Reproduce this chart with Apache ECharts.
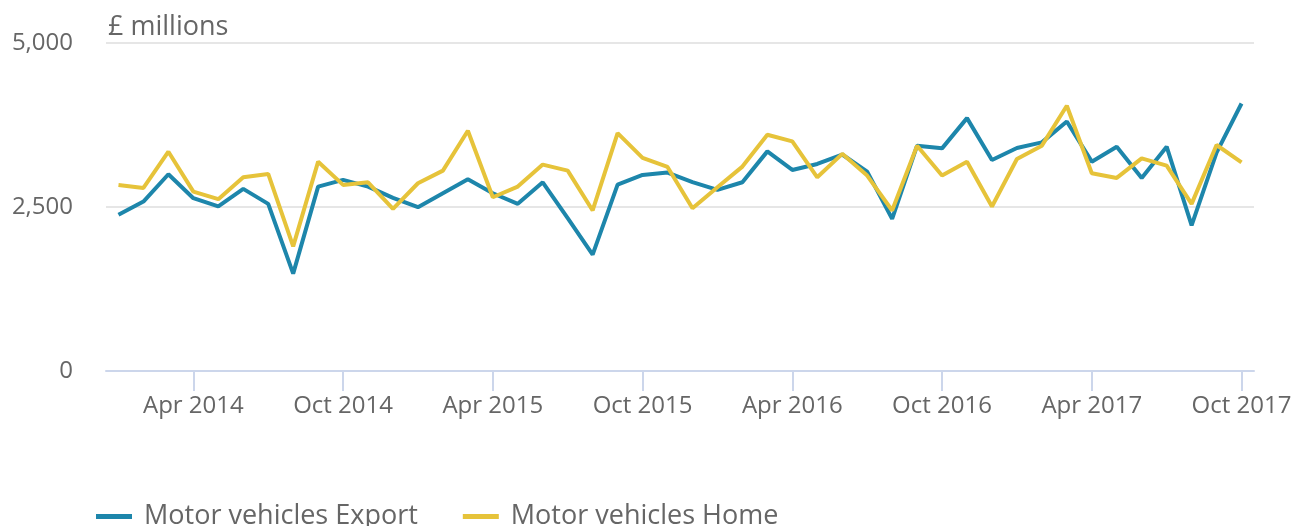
<!DOCTYPE html>
<html>
<head>
	<meta charset="utf-8">
	<title>Motor vehicles</title>
	<style>
		html, body { margin: 0; padding: 0; background: #fff; }
		#chart { width: 1304px; height: 526px; }
	</style>
</head>
<body>
<div id="chart"></div>
<script src="https://cdn.jsdelivr.net/npm/echarts@6/dist/echarts.min.js"></script>
<script>
	// monthly, Jan 2014 - Oct 2017
	var months = [
		'Jan 2014','Feb 2014','Mar 2014','Apr 2014','May 2014','Jun 2014','Jul 2014','Aug 2014','Sep 2014','Oct 2014','Nov 2014','Dec 2014',
		'Jan 2015','Feb 2015','Mar 2015','Apr 2015','May 2015','Jun 2015','Jul 2015','Aug 2015','Sep 2015','Oct 2015','Nov 2015','Dec 2015',
		'Jan 2016','Feb 2016','Mar 2016','Apr 2016','May 2016','Jun 2016','Jul 2016','Aug 2016','Sep 2016','Oct 2016','Nov 2016','Dec 2016',
		'Jan 2017','Feb 2017','Mar 2017','Apr 2017','May 2017','Jun 2017','Jul 2017','Aug 2017','Sep 2017','Oct 2017'
	];

	var exportVals = [
		2381, 2583, 2999, 2634, 2508, 2776, 2548, 1484, 2811, 2913, 2811, 2640,
		2497, 2710, 2923, 2710, 2548, 2877, 2330, 1773, 2842, 2989, 3025, 2880,
		2761, 2877, 3348, 3065, 3156, 3300, 3040, 2320, 3435, 3394, 3855, 3217,
		3399, 3485, 3804, 3191, 3419, 2943, 3419, 2219, 3330, 4078
	];

	var homeVals = [
		2837, 2791, 3343, 2735, 2619, 2953, 3004, 1900, 3191, 2837, 2877, 2472,
		2862, 3055, 3663, 2649, 2811, 3146, 3055, 2447, 3627, 3248, 3110, 2480,
		2801, 3116, 3602, 3500, 2953, 3310, 2979, 2447, 3435, 2979, 3191, 2508,
		3232, 3435, 4043, 3014, 2943, 3242, 3131, 2548, 3445, 3181
	];

	var seriesNames = ['Motor vehicles Export', 'Motor vehicles Home'];
	var colors = ['#1d86ab', '#e6c33a'];

	var font = '"Open Sans", sans-serif';
	var grey = '#666666';

	// Apr / Oct only
	function everySixth(index) {
		return index % 6 === 3;
	}

	var option = {
		animation: false,
		color: colors,
		textStyle: { fontFamily: font },
		title: {
			text: '£ millions',
			left: 103,
			top: 9,
			textStyle: { fontSize: 27, fontWeight: 'normal', color: grey, fontFamily: font }
		},
		legend: {
			left: 96,
			top: 503,
			padding: 0,
			icon: 'rect',
			itemWidth: 36,
			itemHeight: 5,
			itemGap: 45,
			textStyle: { fontSize: 27, color: grey, fontFamily: font, padding: [0, 0, 0, 7] },
			data: seriesNames
		},
		grid: {
			left: 106,
			right: 50,
			top: 43,
			bottom: 155,
			containLabel: false
		},
		xAxis: {
			type: 'category',
			boundaryGap: true,
			data: months,
			axisLine: { lineStyle: { color: '#ccd6eb', width: 2 } },
			axisTick: {
				show: true,
				alignWithLabel: true,
				interval: everySixth,
				length: 20,
				lineStyle: { color: '#ccd6eb', width: 2 }
			},
			axisLabel: {
				interval: everySixth,
				margin: 23,
				fontSize: 24,
				color: grey,
				fontFamily: font
			},
			splitLine: { show: false }
		},
		yAxis: {
			type: 'value',
			min: 0,
			max: 5000,
			interval: 2500,
			axisLine: { show: false },
			axisTick: { show: false },
			axisLabel: {
				margin: 33,
				fontSize: 24,
				color: grey,
				fontFamily: font,
				formatter: function (v) { return v.toLocaleString('en-GB'); }
			},
			splitLine: { lineStyle: { color: '#e6e6e6', width: 2 } }
		},
		series: [
			{
				name: seriesNames[0],
				type: 'line',
				data: exportVals,
				showSymbol: false,
				lineStyle: { width: 4, color: colors[0] }
			},
			{
				name: seriesNames[1],
				type: 'line',
				data: homeVals,
				showSymbol: false,
				lineStyle: { width: 4, color: colors[1] }
			}
		]
	};

	var myChart = echarts.init(document.getElementById('chart'));
	myChart.setOption(option);
</script>
</body>
</html>
